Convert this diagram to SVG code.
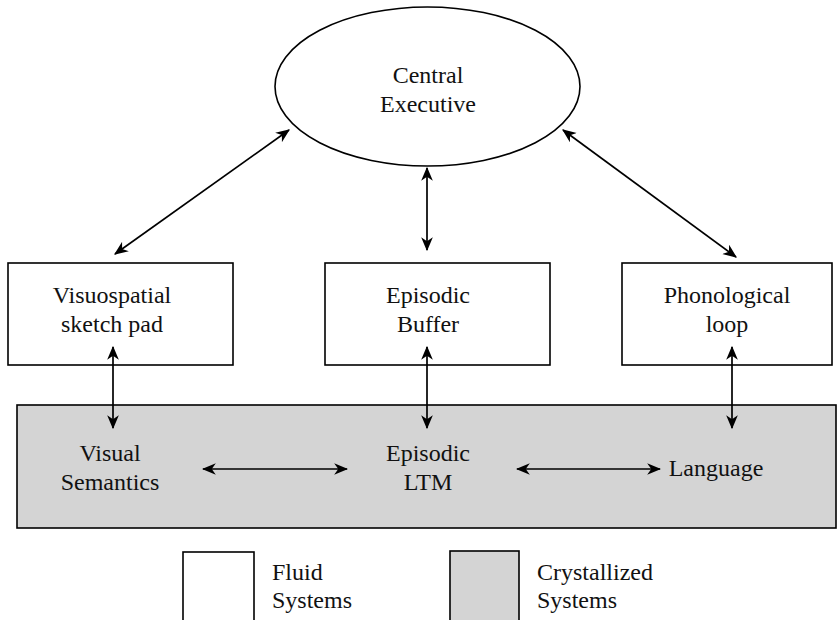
<svg xmlns="http://www.w3.org/2000/svg" width="840" height="620" viewBox="0 0 840 620">
<defs>
<marker id="ah" viewBox="0 0 12 10" refX="11" refY="5" markerWidth="14" markerHeight="12" markerUnits="userSpaceOnUse" orient="auto-start-reverse">
<path d="M0,0 L12,5 L0,10 L3.5,5 Z" fill="#000"/>
</marker>
</defs>
<style>
.box{fill:#fff;stroke:#000;stroke-width:1.6}
.gray{fill:#d4d4d4;stroke:#000;stroke-width:1.6}
.t{text-anchor:middle}
.tl{text-anchor:start}
.c{stroke:#000;stroke-width:1.7;fill:none;marker-start:url(#ah);marker-end:url(#ah)}
</style>
<g font-family="Liberation Serif, serif" font-size="24" fill="#111">
<g id="crystallized">
<rect class="gray" x="17" y="405" width="819" height="123"/>
</g>
<g id="central-executive">
<ellipse class="box" cx="427.5" cy="86.5" rx="152.5" ry="79.5"/>
<text class="t" x="428" y="83">Central</text>
<text class="t" x="428" y="112">Executive</text>
</g>
<g id="visuospatial">
<rect class="box" x="8" y="263" width="225" height="102"/>
<text class="t" x="112" y="303">Visuospatial</text>
<text class="t" x="112" y="332">sketch pad</text>
</g>
<g id="episodic-buffer">
<rect class="box" x="325" y="263" width="225" height="102"/>
<text class="t" x="428" y="303">Episodic</text>
<text class="t" x="428" y="332">Buffer</text>
</g>
<g id="phonological">
<rect class="box" x="622" y="263" width="210" height="102"/>
<text class="t" x="727" y="303">Phonological</text>
<text class="t" x="727" y="332">loop</text>
</g>
<g id="visual-semantics">
<text class="t" x="110" y="461">Visual</text>
<text class="t" x="110" y="490">Semantics</text>
</g>
<g id="episodic-ltm">
<text class="t" x="428" y="461">Episodic</text>
<text class="t" x="428" y="490">LTM</text>
</g>
<g id="language">
<text class="t" x="716" y="476">Language</text>
</g>
<g id="legend">
<rect class="box" x="183" y="552" width="71" height="75"/>
<text class="tl" x="272" y="580">Fluid</text>
<text class="tl" x="272" y="608">Systems</text>
<rect class="gray" x="450" y="551" width="69" height="75"/>
<text class="tl" x="537" y="580">Crystallized</text>
<text class="tl" x="537" y="608">Systems</text>
</g>
</g>
<g id="connectors">
<line class="c" x1="115" y1="254" x2="289" y2="130"/>
<line class="c" x1="427" y1="250" x2="427" y2="168"/>
<line class="c" x1="736" y1="257" x2="563" y2="130"/>
<line class="c" x1="113" y1="347" x2="113" y2="428"/>
<line class="c" x1="427" y1="347" x2="427" y2="428"/>
<line class="c" x1="732" y1="347" x2="732" y2="428"/>
<line class="c" x1="203" y1="469" x2="347" y2="469"/>
<line class="c" x1="517" y1="469" x2="660" y2="469"/>
</g>
</svg>
